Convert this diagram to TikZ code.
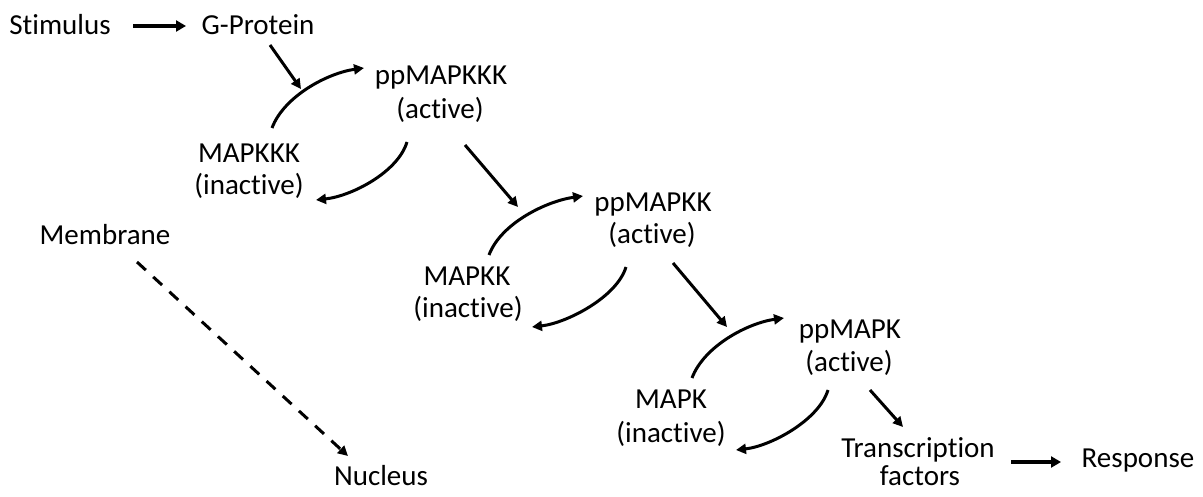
\documentclass[tikz,border=0pt]{standalone}
\usepackage{fontspec}
\setmainfont{Carlito}[Ligatures=CommonOff]
\usetikzlibrary{arrows.meta}
\begin{document}
\begin{tikzpicture}[x=1pt,y=-1pt,
  lbl/.style={inner sep=0pt,anchor=base,font=\fontsize{29}{34}\selectfont},
  arr/.style={line width=3pt,-{Triangle[length=10pt,width=10pt]}},
  bigarr/.style={line width=4pt,-{Triangle[length=10pt,width=11pt]}},
  dasharr/.style={line width=3pt,dash pattern=on 12pt off 10pt,-{Triangle[length=10pt,width=10pt]}}]
\useasboundingbox (0,0) rectangle (1203,497);
% nodes (one per printed line)
\node[lbl] (stim) at (60,35) {Stimulus};
\node[lbl] (gp) at (258,35) {G-Protein};
\node[lbl] (ppk3) at (441,85) {ppMAPKKK};
\node[lbl] (ppk3b) at (440,119) {(active)};
\node[lbl] (k3) at (249,163) {MAPKKK};
\node[lbl] (k3b) at (249,195) {(inactive)};
\node[lbl] (mem) at (105,245) {Membrane};
\node[lbl] (nuc) at (381,485) {Nucleus};
\node[lbl] (ppk2) at (653,212) {ppMAPKK};
\node[lbl] (ppk2b) at (652,244) {(active)};
\node[lbl] (k2) at (467,286) {MAPKK};
\node[lbl] (k2b) at (468,317) {(inactive)};
\node[lbl] (ppk1) at (850,338) {ppMAPK};
\node[lbl] (ppk1b) at (849,371) {(active)};
\node[lbl] (k1) at (671,408) {MAPK};
\node[lbl] (k1b) at (671,442) {(inactive)};
\node[lbl] (tf) at (918,457) {Transcription};
\node[lbl] (tfb) at (920,485) {factors};
\node[lbl] (resp) at (1138,467) {Response};
% connector end points
\coordinate (s0) at (133,26); \coordinate (s1) at (186,26);
\coordinate (g0) at (270,45); \coordinate (g1) at (301,89);
\coordinate (a1s) at (272,128); \coordinate (a1e) at (364,68);
\coordinate (d1s) at (407,142); \coordinate (d1e) at (316,200);
\coordinate (p3s) at (465,145); \coordinate (p3e) at (518,207);
\coordinate (a2s) at (489,255); \coordinate (a2e) at (583,196);
\coordinate (d2s) at (626,267); \coordinate (d2e) at (532,327);
\coordinate (p2s) at (673,263); \coordinate (p2e) at (727,327);
\coordinate (a3s) at (692,378); \coordinate (a3e) at (784,318);
\coordinate (d3s) at (828,390); \coordinate (d3e) at (736,450);
\coordinate (p1s) at (870,390); \coordinate (p1e) at (903,427);
\coordinate (r0) at (1011,462); \coordinate (r1) at (1061,462);
\coordinate (m0) at (137,262); \coordinate (m1) at (348,456);
% connectors
\draw[bigarr] (s0) -- (s1);
\draw[arr] (g0) -- (g1);
\draw[arr] (a1s) .. controls (284,96) and (328,73) .. (a1e);
\draw[arr] (d1s) .. controls (398,172) and (352,196) .. (d1e);
\draw[arr] (p3s) -- (p3e);
\draw[arr] (a2s) .. controls (501,223) and (547,201) .. (a2e);
\draw[arr] (d2s) .. controls (617,297) and (567,323) .. (d2e);
\draw[arr] (p2s) -- (p2e);
\draw[arr] (a3s) .. controls (704,346) and (748,323) .. (a3e);
\draw[arr] (d3s) .. controls (819,420) and (771,446) .. (d3e);
\draw[arr] (p1s) -- (p1e);
\draw[bigarr] (r0) -- (r1);
\draw[dasharr] (m0) -- (m1);
\end{tikzpicture}
\end{document}
